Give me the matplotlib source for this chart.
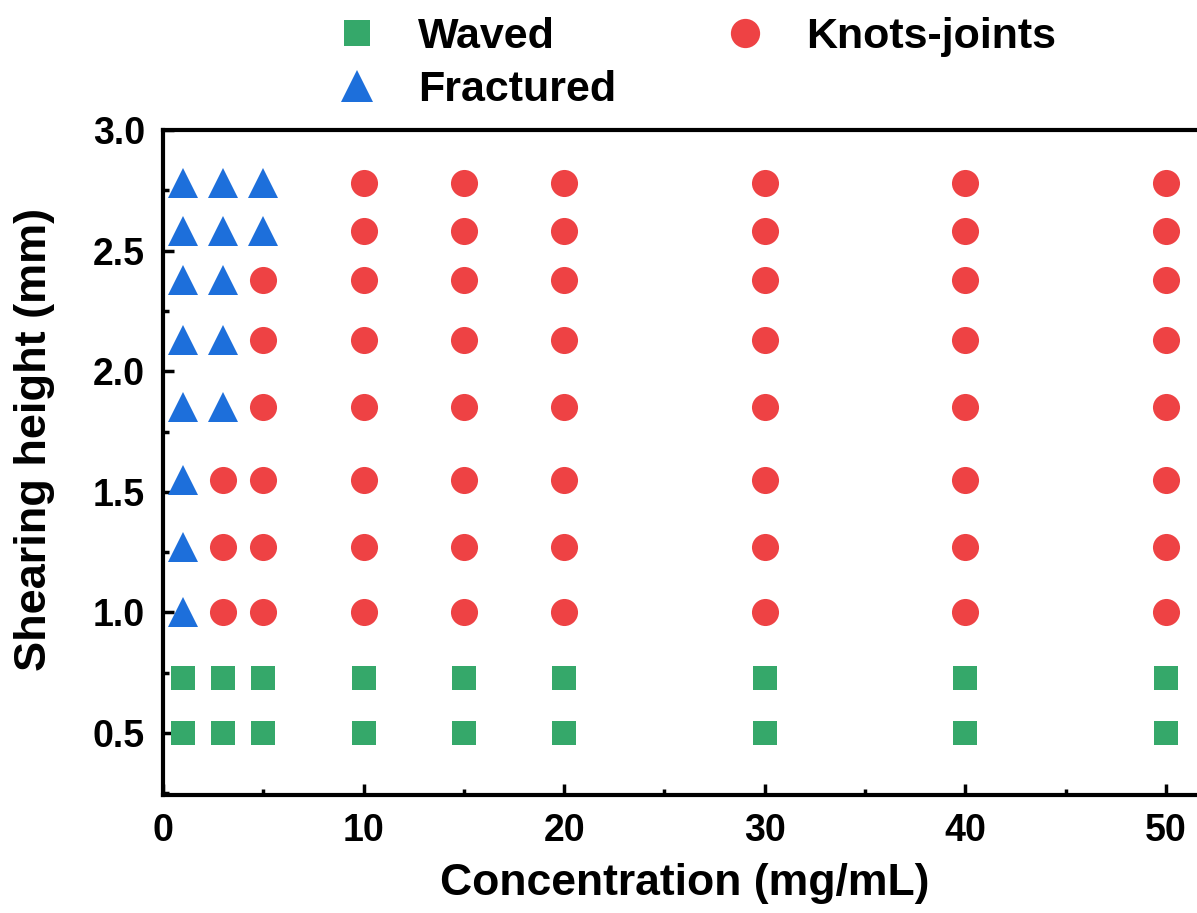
import matplotlib
matplotlib.use("Agg")
import matplotlib.pyplot as plt
from matplotlib.ticker import MultipleLocator, FormatStrFormatter

plt.rcParams['font.family'] = ['Liberation Sans', 'DejaVu Sans']
plt.rcParams['font.weight'] = 'bold'

# Data
concentrations = [1, 3, 5, 10, 15, 20, 30, 40, 50]
heights = [0.5, 0.73, 1.0, 1.27, 1.55, 1.85, 2.13, 2.38, 2.58, 2.78]
# number of leading concentrations that are "Fractured" per height (>=1.0)
fractured_count = {1.0: 1, 1.27: 1, 1.55: 1, 1.85: 2, 2.13: 2, 2.38: 2, 2.58: 3, 2.78: 3}
waved_heights = [0.5, 0.73]

waved_x, waved_y = [], []
frac_x, frac_y = [], []
knot_x, knot_y = [], []
for h in heights:
    for i, c in enumerate(concentrations):
        if h in waved_heights:
            waved_x.append(c); waved_y.append(h)
        elif i < fractured_count[h]:
            frac_x.append(c); frac_y.append(h)
        else:
            knot_x.append(c); knot_y.append(h)

green = '#35a86a'
red = '#ee4244'
blue = '#1d6fdb'

fig = plt.figure(figsize=(11.97, 9.13), dpi=100)
ax = fig.add_axes([163/1197, 1-795/913, 1043/1197, (795-130)/913])

l_w, = ax.plot(waved_x, waved_y, 's', color=green, markersize=17.2, markeredgewidth=0, linestyle='none', label='Waved')
l_k, = ax.plot(knot_x, knot_y, 'o', color=red, markersize=19.5, markeredgewidth=0, linestyle='none', label='Knots-joints')
l_f, = ax.plot(frac_x, frac_y, '^', color=blue, markersize=21, markeredgewidth=0, linestyle='none', label='Fractured')

ax.set_xlim(0, 52)
ax.set_ylim(0.243, 3.0)
ax.xaxis.set_major_locator(MultipleLocator(10))
ax.xaxis.set_minor_locator(MultipleLocator(5))
ax.yaxis.set_major_locator(MultipleLocator(0.5))
ax.yaxis.set_minor_locator(MultipleLocator(0.25))
ax.yaxis.set_major_formatter(FormatStrFormatter('%.1f'))

for s in ax.spines.values():
    s.set_linewidth(3)
ax.tick_params(which='major', direction='in', length=8, width=2.5, labelsize=27, pad=13)
ax.tick_params(which='minor', direction='in', length=4.5, width=2.5)
for lab in ax.get_xticklabels() + ax.get_yticklabels():
    lab.set_fontweight('bold')

ax.set_xlabel('Concentration (mg/mL)', fontsize=32, fontweight='bold', labelpad=10)
ax.set_ylabel('Shearing height (mm)', fontsize=32.5, fontweight='bold', labelpad=27)
ax.yaxis.label.set_y(0.534)

fig.legend([l_w, l_f, l_k], ['Waved', 'Fractured', 'Knots-joints'], ncol=2,
           loc='upper left', bbox_to_anchor=(314/1197, 1 - 17/913), frameon=False,
           prop={'size': 31, 'weight': 'bold'}, handlelength=2.0, handletextpad=0.42,
           columnspacing=1.98, labelspacing=0.3, borderaxespad=0, borderpad=0,
           markerscale=1.08)

fig.savefig('out.png', dpi=100)
